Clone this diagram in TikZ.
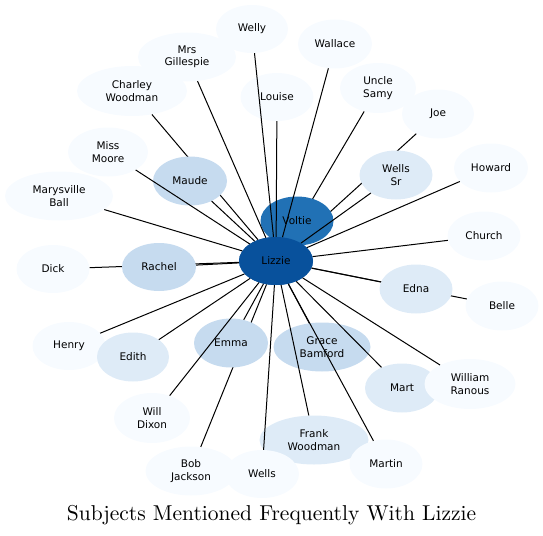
\documentclass[tikz,border=0pt]{standalone}
\usepackage{fontspec}
\newfontfamily\nodefont{DejaVu Sans}
\newfontfamily\titlefont{lmroman10-regular}[Extension=.otf]
\usetikzlibrary{shapes.geometric}
\definecolor{cLizzie}{HTML}{08519C}
\definecolor{cVoltie}{HTML}{2171B5}
\definecolor{cMid}{HTML}{C6DBEF}
\definecolor{cPale}{HTML}{DEEBF7}
\definecolor{cLight}{HTML}{F7FBFF}
\tikzset{
  ent/.style={ellipse, draw=none, inner sep=0pt, minimum width=74pt, minimum height=49pt,
    align=center, text=black, font=\nodefont\fontsize{10.5}{12.5}\selectfont},
  lt/.style={ent, fill=cLight},
  pl/.style={ent, fill=cPale},
  md/.style={ent, fill=cMid},
  link/.style={line width=1pt, black},
  titletext/.style={font=\titlefont\fontsize{21.5}{26}\selectfont, anchor=base}
}
\begin{document}
\begin{tikzpicture}[x=1pt,y=-1pt]
\useasboundingbox (0,0) rectangle (543,535);
\path
  (276,261) coordinate (cLz)
  (132,91) coordinate (cCh)
  (191,471) coordinate (cBo)
  (53,269) coordinate (cDi)
  (502,306) coordinate (cBe)
  (438,114) coordinate (cJo)
  (378,88) coordinate (cUn);
% nodes whose edges run under other nodes
\node[lt, minimum width=110pt, minimum height=50pt] (charley) at (cCh) {Charley\\Woodman};
\node[lt, minimum width=91pt] (bob) at (cBo) {Bob\\Jackson};
\node[lt, minimum width=73pt, minimum height=48pt] (dick) at (cDi) {Dick};
\node[lt, minimum width=73pt] (belle) at (cBe) {Belle};
\node[lt, minimum width=72pt] (joe) at (cJo) {Joe};
\node[lt, minimum width=76pt, minimum height=50pt] (uncle) at (cUn) {Uncle\\Samy};
\node[ent, fill=cLizzie, minimum height=48pt] (lizzie0) at (cLz) {};
% edges hidden partly under other nodes
\draw[link] (charley) -- (lizzie0);
\draw[link] (bob) -- (lizzie0);
\draw[link] (dick) -- (lizzie0);
\draw[link] (belle) -- (lizzie0);
\draw[link] (joe) -- (lizzie0);
\draw[link] (uncle) -- (lizzie0);
% remaining nodes
\node[lt, minimum width=72pt, minimum height=48pt] (welly) at (252,29) {Welly};
\node[lt, minimum width=98pt] (mrsg) at (187,57) {Mrs\\Gillespie};
\node[lt, minimum width=80pt] (missmoore) at (108,152) {Miss\\Moore};
\node[md] (maude) at (190,181) {Maude};
\node[lt, minimum width=108pt] (marysville) at (59,196) {Marysville\\Ball};
\node[md, minimum height=48pt] (rachel) at (159,267) {Rachel};
\node[lt, minimum width=73pt, minimum height=48pt] (louise) at (277,97) {Louise};
\node[lt] (wallace) at (335,44) {Wallace};
\node[pl, minimum width=73pt] (wellssr) at (396,175) {Wells\\Sr};
\node[lt] (howard) at (491,168) {Howard};
\node[lt, minimum width=73pt] (church) at (484,236) {Church};
\node[pl, minimum width=73pt] (edna) at (416,289) {Edna};
\node[pl] (mart) at (402,388) {Mart};
\node[lt, minimum width=91pt, minimum height=50pt] (william) at (470,384) {William\\Ranous};
\node[md, minimum width=97pt] (grace) at (322,347) {Grace\\Bamford};
\node[pl, minimum width=109pt] (frank) at (314,440) {Frank\\Woodman};
\node[lt, minimum width=73pt] (martin) at (386,464) {Martin};
\node[lt, minimum height=48pt] (wells) at (262,474) {Wells};
\node[lt, minimum width=76pt, minimum height=50pt] (willdixon) at (152,418) {Will\\Dixon};
\node[md] (emma) at (231,343) {Emma};
\node[lt, minimum width=73pt, minimum height=48pt] (henry) at (69,346) {Henry};
\node[pl, minimum width=72pt] (edith) at (133,357) {Edith};
\node[ent, fill=cVoltie, minimum width=73pt] (voltie) at (297,221) {Voltie};
\node[ent, fill=cLizzie, minimum height=48pt] (lizzie) at (cLz) {Lizzie};
% visible edges
\draw[link] (welly) -- (lizzie);
\draw[link] (mrsg) -- (lizzie);
\draw[link] (missmoore) -- (lizzie);
\draw[link] (maude) -- (lizzie);
\draw[link] (marysville) -- (lizzie);
\draw[link] (rachel) -- (lizzie);
\draw[link] (louise) -- (lizzie);
\draw[link] (wallace) -- (lizzie);
\draw[link] (wellssr) -- (lizzie);
\draw[link] (howard) -- (lizzie);
\draw[link] (church) -- (lizzie);
\draw[link] (edna) -- (lizzie);
\draw[link] (william) -- (lizzie);
\draw[link] (mart) -- (lizzie);
\draw[link] (martin) -- (lizzie);
\draw[link] (grace) -- (lizzie);
\draw[link] (frank) -- (lizzie);
\draw[link] (wells) -- (lizzie);
\draw[link] (emma) -- (lizzie);
\draw[link] (edith) -- (lizzie);
\draw[link] (henry) -- (lizzie);
\draw[link] (willdixon) -- (lizzie);
% title
\node[titletext] (title) at (271.5,520) {Subjects Mentioned Frequently With Lizzie};
\end{tikzpicture}
\end{document}
